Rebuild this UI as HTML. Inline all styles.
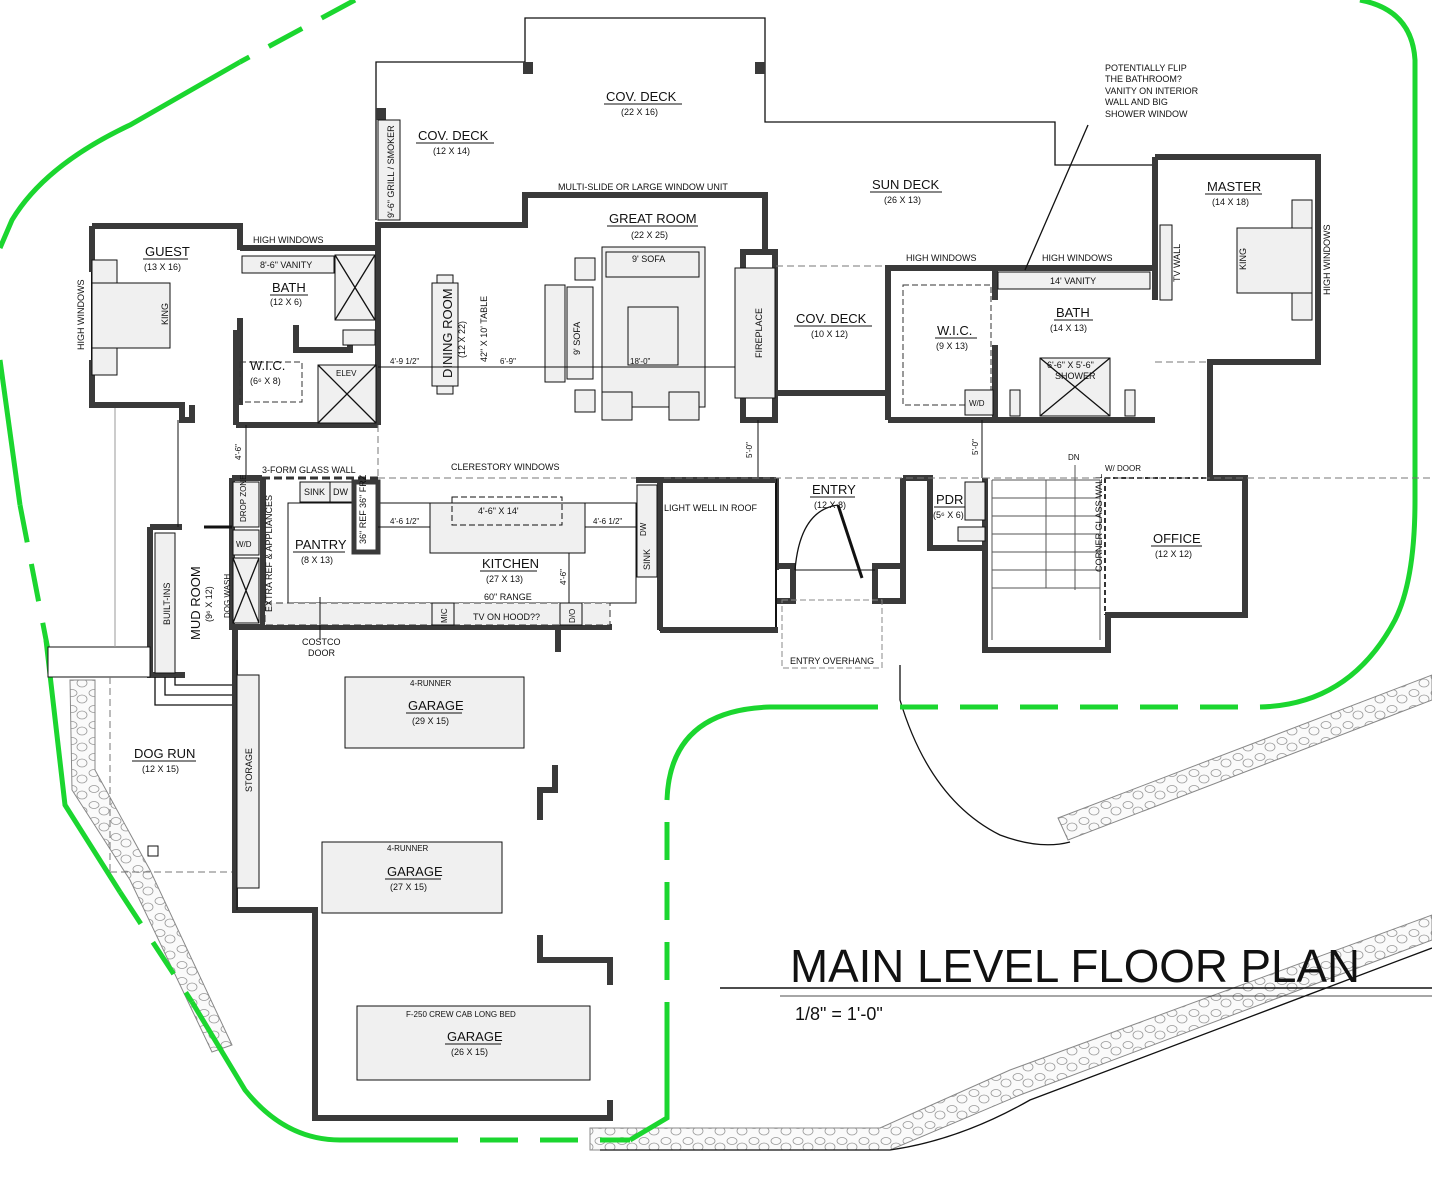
<!DOCTYPE html>
<html><head><meta charset="utf-8"><style>
html,body{margin:0;padding:0;background:#fff}
svg{display:block}
text{font-family:"Liberation Sans",sans-serif;fill:#111}
.t{font-size:13px}
.s{font-size:9px}
.xs{font-size:8px}
.w{fill:none;stroke:#3a3a3a;stroke-width:6}
.l{fill:none;stroke:#111;stroke-width:1.3}
.f{fill:#f0f0f0;stroke:#111;stroke-width:1}
.d{fill:none;stroke:#777;stroke-width:1;stroke-dasharray:7 4}
.g{fill:none;stroke:#1bd62f;stroke-width:5}
.gd{fill:none;stroke:#1bd62f;stroke-width:5;stroke-dasharray:38 22}
</style></head><body>
<svg width="1432" height="1188" viewBox="0 0 1432 1188" xmlns="http://www.w3.org/2000/svg">
<defs>
<pattern id="st" width="22" height="16" patternUnits="userSpaceOnUse">
<rect width="22" height="16" fill="#fafafa"/>
<ellipse cx="6" cy="5" rx="5" ry="3.5" fill="none" stroke="#999" stroke-width="0.8"/>
<ellipse cx="16" cy="11" rx="5" ry="4" fill="none" stroke="#999" stroke-width="0.8"/>
</pattern>
</defs>

<!-- stone bands -->
<polygon points="70,680 95,680 95,770 150,870 232,1045 212,1052 130,880 72,790" fill="url(#st)" stroke="#888"/>
<polygon points="590,1128 880,1128 1010,1070 1432,915 1432,940 1020,1095 890,1150 590,1150" fill="url(#st)" stroke="#888"/>
<polygon points="1058,818 1432,675 1432,700 1068,840" fill="url(#st)" stroke="#888"/>

<!-- driveway black lines -->
<path d="M900,665 L900,700 Q930,800 1000,835 Q1040,850 1070,842" class="l" stroke-width="2"/>
<path d="M600,1150 L890,1150 Q960,1140 1030,1100 L1432,948" class="l" stroke-width="2"/>

<!-- green boundary -->
<path d="M355,0 L240,62" class="gd"/>
<path d="M240,62 L130,125 Q45,165 12,220 L0,248" class="g"/>
<path d="M0,360 L20,505" class="g"/>
<path d="M20,505 L48,650" class="gd"/>
<path d="M46,640 L65,805 L120,892" class="g"/>
<path d="M120,892 L192,1002" class="gd"/>
<path d="M192,1002 L245,1090 Q285,1140 340,1140 L420,1140" class="g"/>
<path d="M420,1140 L630,1140" class="gd"/>
<path d="M630,1140 L667,1118 L667,1040" class="g"/>
<path d="M667,1040 L667,800" class="gd"/>
<path d="M667,800 Q670,710 770,707 L840,707" class="g"/>
<path d="M840,707 L1260,707" class="gd"/>
<path d="M1260,707 Q1350,705 1395,620 Q1415,580 1415,500 L1415,60 Q1412,10 1360,0" class="g"/>

<!-- decks outline -->
<path d="M376,220 V62 H525 V18 H765 V122 H1055 V165 H1155" class="l"/>
<rect x="523" y="62" width="10" height="12" fill="#3a3a3a"/>
<rect x="755" y="62" width="10" height="12" fill="#3a3a3a"/>
<rect x="376" y="108" width="10" height="12" fill="#3a3a3a"/>
<rect x="378" y="120" width="22" height="100" class="f"/>
<text transform="translate(394,218) rotate(-90)" class="s">9'-6" GRILL / SMOKER</text>

<!-- guest -->
<path d="M92,226 H240 V250 M240,318 V405 M92,226 V272 M92,360 V405 H182 V420 H192 V405" class="w"/>
<line x1="92" y1="272" x2="92" y2="360" stroke="#111" stroke-width="2"/>
<rect x="92" y="260" width="25" height="25" class="f"/><rect x="92" y="345" width="25" height="30" class="f"/>
<rect x="92" y="283" width="78" height="65" class="f"/>
<text transform="translate(168,325) rotate(-90)" class="s">KING</text>
<text transform="translate(84,350) rotate(-90)" class="s">HIGH WINDOWS</text>
<text x="145" y="256" class="t">GUEST</text><line x1="143" y1="259" x2="188" y2="259" stroke="#111"/>
<text x="144" y="270" class="s">(13 X 16)</text>

<!-- bath -->
<path d="M240,248 H378 M378,222 V425 M236,425 H378 M296,325 V350 H350 V335 M236,330 V425" class="w"/>
<rect x="242" y="256" width="92" height="17" class="f"/><text x="260" y="268" class="s">8'-6" VANITY</text>
<rect x="335" y="255" width="40" height="65" class="f"/><path d="M335,255 L375,320 M375,255 L335,320" class="l"/>
<text x="272" y="292" class="t">BATH</text><line x1="270" y1="295" x2="308" y2="295" stroke="#111"/>
<text x="270" y="305" class="s">(12 X 6)</text>
<text x="253" y="243" class="s">HIGH WINDOWS</text>
<rect x="318" y="365" width="58" height="58" fill="#f0f0f0" stroke="#111"/>
<path d="M318,365 L376,423 M376,365 L318,423" class="l"/><text x="336" y="376" class="xs">ELEV</text>
<rect x="240" y="362" width="62" height="40" fill="none" stroke="#333" stroke-dasharray="6 3"/>
<text x="250" y="370" class="t">W.I.C.</text><text x="250" y="384" class="s">(6⁶ X 8)</text>
<rect x="343" y="330" width="32" height="15" class="f"/>

<!-- great room -->
<path d="M378,225 H525 V195 H765 V250" class="w"/>
<text x="558" y="190" class="s">MULTI-SLIDE OR LARGE WINDOW UNIT</text>
<text x="609" y="223" class="t">GREAT ROOM</text><line x1="607" y1="226" x2="698" y2="226" stroke="#111"/>
<text x="631" y="238" class="s">(22 X 25)</text>
<rect x="602" y="247" width="103" height="160" class="f"/>
<rect x="606" y="252" width="93" height="25" class="f"/><text x="632" y="262" class="s">9' SOFA</text>
<rect x="575" y="258" width="20" height="22" class="f"/>
<rect x="545" y="285" width="20" height="97" class="f"/><rect x="567" y="287" width="26" height="92" class="f"/>
<text transform="translate(580,355) rotate(-90)" class="s">9' SOFA</text>
<rect x="628" y="307" width="50" height="58" class="f"/>
<rect x="575" y="390" width="20" height="22" class="f"/><rect x="602" y="392" width="30" height="28" class="f"/><rect x="669" y="392" width="30" height="28" class="f"/>
<rect x="432" y="283" width="26" height="103" class="f"/>
<rect x="437" y="275" width="16" height="8" class="f"/><rect x="437" y="386" width="16" height="8" class="f"/>
<text transform="translate(452,378) rotate(-90)" class="t">DINING ROOM</text>
<text transform="translate(465,358) rotate(-90)" class="s">(12 X 22)</text>
<text transform="translate(487,362) rotate(-90)" class="s">42" X 10' TABLE</text>
<line x1="378" y1="367" x2="745" y2="367" stroke="#111"/>
<text x="390" y="364" class="xs">4'-9 1/2"</text><text x="500" y="364" class="xs">6'-9"</text><text x="630" y="364" class="xs">18'-0"</text>
<!-- fireplace column -->
<rect x="743" y="252" width="32" height="168" fill="#fff" stroke="#3a3a3a" stroke-width="6"/>
<rect x="735" y="268" width="40" height="130" class="f"/>
<text transform="translate(762,358) rotate(-90)" class="s">FIREPLACE</text>
<line x1="776" y1="266" x2="888" y2="266" class="d"/>
<path d="M776,393 H888" class="w"/>
<text x="796" y="323" class="t">COV. DECK</text><line x1="794" y1="326" x2="872" y2="326" stroke="#111"/>
<text x="811" y="337" class="s">(10 X 12)</text>
<text x="872" y="189" class="t">SUN DECK</text><line x1="870" y1="192" x2="942" y2="192" stroke="#111"/>
<text x="884" y="203" class="s">(26 X 13)</text>
<text x="606" y="101" class="t">COV. DECK</text><line x1="604" y1="104" x2="682" y2="104" stroke="#111"/>
<text x="621" y="115" class="s">(22 X 16)</text>
<text x="418" y="140" class="t">COV. DECK</text><line x1="416" y1="143" x2="494" y2="143" stroke="#111"/>
<text x="433" y="154" class="s">(12 X 14)</text>

<!-- master suite -->
<path d="M888,420 V268 H1155 M995,268 V300 M995,345 V420 M888,420 H1155 M1155,157 H1318 V362 H1210 V470 M1155,157 V300" class="w"/>
<rect x="903" y="285" width="88" height="120" fill="none" stroke="#333" stroke-dasharray="6 3"/>
<rect x="965" y="390" width="28" height="25" class="f"/><text x="969" y="406" class="xs">W/D</text>
<text x="937" y="335" class="t">W.I.C.</text><line x1="935" y1="338" x2="977" y2="338" stroke="#111"/>
<text x="936" y="349" class="s">(9 X 13)</text>
<rect x="998" y="272" width="152" height="17" class="f"/><text x="1050" y="284" class="s">14' VANITY</text>
<text x="1056" y="317" class="t">BATH</text><line x1="1054" y1="320" x2="1093" y2="320" stroke="#111"/>
<text x="1050" y="331" class="s">(14 X 13)</text>
<rect x="1040" y="358" width="70" height="58" class="f"/><path d="M1040,358 L1110,416 M1110,358 L1040,416" class="l"/>
<text x="1047" y="368" class="s">6'-6" X 5'-6"</text><text x="1055" y="379" class="s">SHOWER</text>
<rect x="1010" y="390" width="10" height="26" class="f"/><rect x="1125" y="390" width="10" height="26" class="f"/>
<text x="906" y="261" class="s">HIGH WINDOWS</text><text x="1042" y="261" class="s">HIGH WINDOWS</text>
<rect x="1160" y="225" width="12" height="75" class="f"/>
<text transform="translate(1180,282) rotate(-90)" class="s">TV WALL</text>
<rect x="1292" y="200" width="20" height="30" class="f"/><rect x="1292" y="290" width="20" height="30" class="f"/>
<rect x="1237" y="228" width="75" height="65" class="f"/>
<text transform="translate(1246,270) rotate(-90)" class="s">KING</text>
<text transform="translate(1330,295) rotate(-90)" class="s">HIGH WINDOWS</text>
<text x="1207" y="191" class="t">MASTER</text><line x1="1205" y1="194" x2="1262" y2="194" stroke="#111"/>
<text x="1212" y="205" class="s">(14 X 18)</text>
<line x1="1155" y1="362" x2="1210" y2="362" class="d"/>
<path d="M1025,270 L1088,125" class="l"/>
<text class="s"><tspan x="1105" y="71">POTENTIALLY FLIP</tspan><tspan x="1105" y="82">THE BATHROOM?</tspan><tspan x="1105" y="94">VANITY ON INTERIOR</tspan><tspan x="1105" y="105">WALL AND BIG</tspan><tspan x="1105" y="117">SHOWER WINDOW</tspan></text>

<!-- office & stairs -->
<path d="M1210,470 V478 H1245 V615 H1108 V650 H985 V480" class="w"/>
<line x1="1105" y1="478" x2="1105" y2="615" stroke="#333" stroke-width="2" stroke-dasharray="5 3"/>
<line x1="1105" y1="478" x2="1210" y2="478" stroke="#333" stroke-width="2" stroke-dasharray="5 3"/>
<g stroke="#555" stroke-width="1">
<line x1="992" y1="480" x2="992" y2="640"/><line x1="1100" y1="480" x2="1100" y2="640"/>
<line x1="992" y1="480" x2="1100" y2="480"/><line x1="992" y1="498" x2="1100" y2="498"/><line x1="992" y1="516" x2="1100" y2="516"/><line x1="992" y1="534" x2="1100" y2="534"/><line x1="992" y1="552" x2="1100" y2="552"/><line x1="992" y1="570" x2="1100" y2="570"/><line x1="992" y1="588" x2="1100" y2="588"/><line x1="1046" y1="480" x2="1046" y2="588"/>
<line x1="1075" y1="465" x2="1075" y2="590"/></g>
<text x="1068" y="460" class="xs">DN</text>
<text x="1105" y="471" class="xs">W/ DOOR</text>
<text transform="translate(1102,572) rotate(-90)" class="s">CORNER GLASS WALL</text>
<text x="1153" y="543" class="t">OFFICE</text><line x1="1151" y1="546" x2="1202" y2="546" stroke="#111"/>
<text x="1155" y="557" class="s">(12 X 12)</text>
<line x1="982" y1="420" x2="982" y2="478" stroke="#111"/><text transform="translate(978,455) rotate(-90)" class="xs">5'-0"</text>

<!-- PDR / entry -->
<path d="M903,478 H930 V548 H985 M985,478 V550" class="w"/>
<rect x="965" y="482" width="20" height="38" class="f"/><rect x="958" y="527" width="27" height="14" class="f"/>
<text x="936" y="504" class="t">PDR</text><line x1="934" y1="507" x2="965" y2="507" stroke="#111"/>
<text x="933" y="518" class="s">(5⁶ X 6)</text>
<rect x="763" y="566" width="30" height="35" fill="#fff" stroke="#3a3a3a" stroke-width="6"/>
<rect x="875" y="566" width="28" height="35" fill="#fff" stroke="#3a3a3a" stroke-width="6"/>
<path d="M776,478 V570 M903,478 V570" class="w"/>
<path d="M795,570 Q800,510 838,505" class="l"/><path d="M838,505 L862,578" stroke="#111" stroke-width="3" fill="none"/>
<line x1="795" y1="570" x2="875" y2="570" stroke="#111"/>
<text x="812" y="494" class="t">ENTRY</text><line x1="810" y1="497" x2="855" y2="497" stroke="#111"/>
<text x="814" y="508" class="s">(12 X 8)</text>
<rect x="782" y="600" width="100" height="68" fill="none" stroke="#888" stroke-dasharray="6 3"/>
<text x="790" y="664" class="s">ENTRY OVERHANG</text>
<line x1="758" y1="420" x2="758" y2="478" stroke="#111"/><text transform="translate(752,458) rotate(-90)" class="xs">5'-0"</text>

<!-- light well / kitchen -->
<rect x="660" y="480" width="116" height="150" fill="#fff" stroke="#111" stroke-width="2"/>
<path d="M660,480 H776 M660,630 H778" class="w"/>
<text x="664" y="511" class="s">LIGHT WELL IN ROOF</text>
<line x1="378" y1="478" x2="1432" y2="478" class="d"/>
<line x1="378" y1="425" x2="378" y2="478" class="d"/>
<text x="451" y="470" class="s">CLERESTORY WINDOWS</text>
<text x="262" y="473" class="s">3-FORM GLASS WALL</text>
<line x1="246" y1="425" x2="246" y2="478" stroke="#111"/><text transform="translate(241,460) rotate(-90)" class="xs">4'-6"</text>
<path d="M232,478 V627 H612 M232,478 H262 M636,480 H660 V630 M263,478 V627 M558,627 V652" class="w"/>
<line x1="262" y1="478" x2="378" y2="478" stroke="#333" stroke-width="3" stroke-dasharray="8 4"/>
<rect x="637" y="485" width="20" height="92" class="f"/>
<text transform="translate(650,570) rotate(-90)" class="s">SINK</text><text transform="translate(646,536) rotate(-90)" class="xs">DW</text>
<rect x="288" y="503" width="348" height="100" fill="none" stroke="#111"/>
<rect x="300" y="482" width="30" height="20" class="f"/><text x="304" y="495" class="s">SINK</text>
<rect x="330" y="482" width="22" height="20" class="f"/><text x="333" y="495" class="s">DW</text>
<rect x="354" y="482" width="24" height="70" fill="#fff" stroke="#3a3a3a" stroke-width="5"/>
<text transform="translate(366,508) rotate(-90)" class="s">36" FRZ</text><text transform="translate(366,544) rotate(-90)" class="s">36" REF</text>
<rect x="430" y="503" width="155" height="50" class="f"/>
<rect x="452" y="497" width="110" height="28" fill="none" stroke="#111" stroke-dasharray="6 3"/>
<text x="478" y="514" class="s">4'-6" X 14'</text>
<line x1="378" y1="527" x2="430" y2="527" stroke="#111"/><line x1="585" y1="527" x2="636" y2="527" stroke="#111"/>
<text x="390" y="524" class="xs">4'-6 1/2"</text><text x="593" y="524" class="xs">4'-6 1/2"</text>
<line x1="569" y1="553" x2="569" y2="615" stroke="#111"/><text transform="translate(566,585) rotate(-90)" class="xs">4'-6"</text>
<rect x="265" y="603" width="345" height="22" fill="#f0f0f0" stroke="#333" stroke-dasharray="7 4"/>
<rect x="432" y="603" width="22" height="22" class="f"/><text transform="translate(447,623) rotate(-90)" class="xs">MIC</text>
<text x="473" y="620" class="s">TV ON HOOD??</text>
<rect x="560" y="603" width="22" height="22" class="f"/><text transform="translate(575,623) rotate(-90)" class="xs">D/O</text>
<text x="484" y="600" class="s">60" RANGE</text>
<text x="482" y="568" class="t">KITCHEN</text><line x1="480" y1="571" x2="537" y2="571" stroke="#111"/>
<text x="486" y="582" class="s">(27 X 13)</text>
<text x="295" y="549" class="t">PANTRY</text><line x1="293" y1="552" x2="345" y2="552" stroke="#111"/>
<text x="301" y="563" class="s">(8 X 13)</text>
<line x1="320" y1="597" x2="320" y2="640" stroke="#111"/>
<text x="302" y="645" class="s">COSTCO</text><text x="308" y="656" class="s">DOOR</text>
<text transform="translate(272,612) rotate(-90)" class="s">EXTRA REF &amp; APPLIANCES</text>
<!-- mudroom -->
<path d="M150,527 V675 H185 M150,527 H182 M232,478 V527" class="w"/>
<rect x="155" y="533" width="20" height="140" class="f"/>
<text transform="translate(170,625) rotate(-90)" class="s">BUILT-INS</text>
<text transform="translate(200,640) rotate(-90)" class="t">MUD ROOM</text>
<text transform="translate(212,622) rotate(-90)" class="s">(9⁶ X 12)</text>
<rect x="233" y="482" width="26" height="45" class="f"/><text transform="translate(246,522) rotate(-90)" class="xs">DROP ZONE</text>
<rect x="233" y="530" width="26" height="25" class="f"/><text x="236" y="547" class="xs">W/D</text>
<rect x="233" y="558" width="26" height="65" class="f"/><path d="M233,558 L259,623 M259,558 L233,623" class="l"/>
<text transform="translate(230,618) rotate(-90)" class="xs">DOG WASH</text>
<line x1="204" y1="527" x2="232" y2="527" stroke="#111" stroke-width="3"/>
<!-- dog run -->
<rect x="48" y="647" width="102" height="30" fill="#fff" stroke="#111"/>
<line x1="115" y1="408" x2="115" y2="647" stroke="#999"/><line x1="178" y1="420" x2="178" y2="527" stroke="#111"/>
<path d="M155,677 V705 H235 M165,677 V695 H235 M175,677 V685 H235" class="l"/>
<line x1="110" y1="677" x2="110" y2="872" class="d"/><line x1="110" y1="872" x2="235" y2="872" class="d"/>
<rect x="148" y="846" width="10" height="10" fill="none" stroke="#111"/>
<text x="134" y="758" class="t">DOG RUN</text><line x1="132" y1="761" x2="196" y2="761" stroke="#111"/>
<text x="142" y="772" class="s">(12 X 15)</text>
<!-- garage -->
<path d="M235,660 V910 H315 V1118 H610 V1100 M235,627 V660" class="w"/>
<line x1="237" y1="660" x2="237" y2="910" stroke="#111"/>
<rect x="237" y="675" width="22" height="213" class="f"/>
<text transform="translate(252,792) rotate(-90)" class="s">STORAGE</text>
<path d="M555,765 V790 H540 V820 M540,935 V960 H610 V985" class="w"/>
<rect x="345" y="677" width="179" height="71" class="f"/>
<text x="410" y="686" class="xs">4-RUNNER</text>
<text x="408" y="710" class="t">GARAGE</text><line x1="406" y1="713" x2="462" y2="713" stroke="#111"/>
<text x="412" y="724" class="s">(29 X 15)</text>
<rect x="322" y="842" width="180" height="71" class="f"/>
<text x="387" y="851" class="xs">4-RUNNER</text>
<text x="387" y="876" class="t">GARAGE</text><line x1="385" y1="879" x2="441" y2="879" stroke="#111"/>
<text x="390" y="890" class="s">(27 X 15)</text>
<rect x="357" y="1006" width="233" height="74" class="f"/>
<text x="406" y="1017" class="xs">F-250 CREW CAB LONG BED</text>
<text x="447" y="1041" class="t">GARAGE</text><line x1="445" y1="1044" x2="501" y2="1044" stroke="#111"/>
<text x="451" y="1055" class="s">(26 X 15)</text>

<!-- title -->
<text x="790" y="982" style="font-size:46px" textLength="570" lengthAdjust="spacingAndGlyphs">MAIN LEVEL FLOOR PLAN</text>
<line x1="720" y1="988" x2="1432" y2="988" stroke="#111" stroke-width="1.5"/>
<line x1="780" y1="996" x2="1432" y2="996" stroke="#111" stroke-width="0.8"/>
<text x="795" y="1020" style="font-size:18px">1/8"  =  1'-0"</text>
</svg>
</body></html>
